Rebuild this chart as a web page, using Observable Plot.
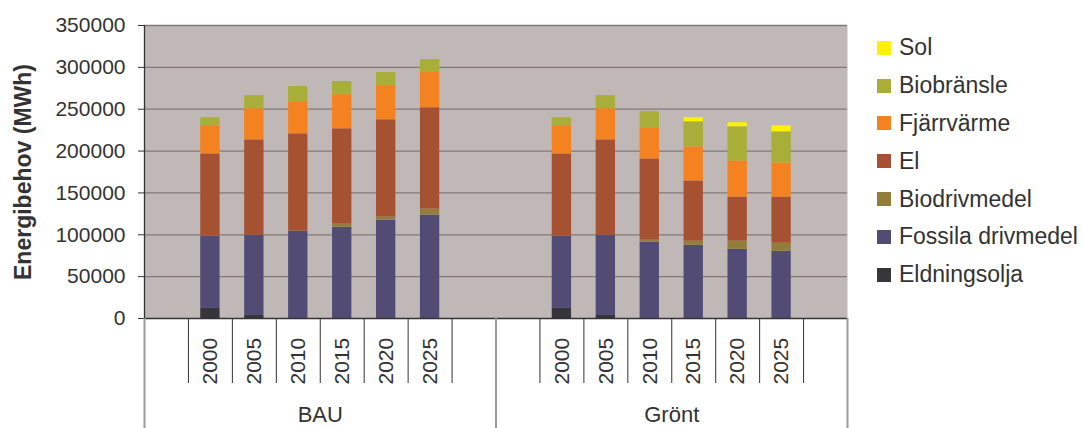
<!DOCTYPE html>
<html>
<head>
<meta charset="utf-8">
<script src="https://cdn.jsdelivr.net/npm/d3@7"></script>
<script src="https://cdn.jsdelivr.net/npm/@observablehq/plot@0.6"></script>
<style>
  body { margin: 0; background: #fff; font-family: "Liberation Sans", Arial, sans-serif; }
  #wrap { position: relative; width: 1083px; height: 428px; }
  #legend { position: absolute; left: 877px; top: 29px; color: #333; font-size: 23px; }
  .row { display: flex; align-items: center; height: 37.8px; white-space: nowrap; }
  .sw { width: 14px; height: 14px; margin-right: 8px; flex: none; }
</style>
</head>
<body>
<div id="wrap"></div>
<script>
// ---- data ----
const scenarios = ["BAU", "Grönt"];
const years = ["2000", "2005", "2010", "2015", "2020", "2025"];
const yTicks = [0, 50000, 100000, 150000, 200000, 250000, 300000, 350000];
const seriesNames = ["Eldningsolja", "Fossila drivmedel", "Biodrivmedel", "El", "Fjärrvärme", "Biobränsle", "Sol"];
const seriesColors = ["#363539", "#524c74", "#927d3a", "#a65232", "#f58220", "#a8ae38", "#fff200"];
// values: BAU 2000..2025, then Grönt 2000..2025
const eldningsolja = [12000, 3600, 0, 0, 0, 0, 12000, 3600, 0, 0, 0, 0];
const fossila      = [86300, 95900, 104300, 109100, 117500, 123500, 86300, 95900, 91100, 87500, 82700, 80300];
const biodrivmedel = [0, 0, 0, 3600, 3600, 7200, 0, 0, 2400, 4800, 9600, 9600];
const el           = [98300, 113900, 116300, 113900, 116300, 121100, 98300, 113900, 97100, 72000, 52800, 55200];
const fjarrvarme   = [32800, 37200, 38400, 40800, 40800, 42000, 32800, 37200, 36400, 40700, 43100, 40700];
const biobransle   = [10400, 15600, 18000, 15600, 15600, 15500, 10400, 15600, 20000, 30000, 40800, 37200];
const sol          = [0, 0, 0, 0, 0, 0, 0, 0, 0, 4800, 4800, 7200];
const seriesValues = [eldningsolja, fossila, biodrivmedel, el, fjarrvarme, biobransle, sol];
const yTitle = "Energibehov (MWh)";

// ---- build table ----
const slotKeys = scenarios.flatMap(s => [s + "|a", ...years.map(y => s + "|" + y), s + "|z"]);
const rows = [];
scenarios.forEach((s, si) => years.forEach((y, yi) => {
  const i = si * years.length + yi;
  seriesNames.forEach((name, k) => {
    const v = seriesValues[k][i];
    if (v > 0) rows.push({key: s + "|" + y, series: name, value: v});
  });
}));
const yearLabels = scenarios.flatMap(s => years.map(y => ({key: s + "|" + y, year: y})));
const groupLabels = scenarios.map(s => ({key: s + "|" + years[3], name: s}));
const innerKeys = slotKeys.filter(k => !k.endsWith("|a"));
const groupStartKeys = slotKeys.filter(k => k.endsWith("|a"));
const lastKey = slotKeys[slotKeys.length - 1];

const W = 1083, H = 428, ML = 144, MR = 236, MT = 25, MB = 110;
const step = (W - ML - MR) / slotKeys.length;
const txt = "#333333";

const chart = Plot.plot({
  width: W, height: H,
  marginLeft: ML, marginRight: MR, marginTop: MT, marginBottom: MB,
  style: {fontFamily: "'Liberation Sans', Arial, sans-serif", fontSize: "21px", color: txt, background: "#fff", overflow: "visible"},
  x: {type: "band", domain: slotKeys, paddingInner: 0.56, paddingOuter: 0.28, round: false, axis: null},
  y: {domain: [0, 350000], axis: null},
  color: {domain: seriesNames, range: seriesColors},
  marks: [
    Plot.frame({fill: "#c0b8b6", stroke: null}),
    Plot.ruleY(yTicks.filter(d => d > 0), {stroke: "#827a78", strokeWidth: 1.3}),
    Plot.barY(rows, {x: "key", y: "value", fill: "series"}),
    // axes lines
    Plot.ruleY([0], {stroke: "#333", strokeWidth: 1.3}),
    Plot.ruleX([slotKeys[0]], {x: d => d, y1: 0, y2: 350000, dx: -step / 2, stroke: "#333", strokeWidth: 1.3}),
    Plot.axisY(yTicks, {tickSize: 6, tickPadding: 13, tickFormat: d => String(d), fontSize: 21, label: null, stroke: "#333"}),
    // category ticks
    Plot.ruleX(innerKeys, {x: d => d, y1: 0, y2: 0, dx: -step / 2, insetBottom: -65, stroke: "#333", strokeWidth: 1}),
    Plot.ruleX(groupStartKeys, {x: d => d, y1: 0, y2: 0, dx: -step / 2, insetBottom: -110, stroke: "#9a9a9a", strokeWidth: 2}),
    Plot.ruleX([lastKey], {x: d => d, y1: 0, y2: 0, dx: step / 2, insetBottom: -110, stroke: "#9a9a9a", strokeWidth: 2}),
    // labels
    Plot.text(yearLabels, {x: "key", y: () => 0, text: "year", rotate: -90, textAnchor: "start", lineAnchor: "middle", dy: 66, fontSize: 21, fill: txt}),
    Plot.text(groupLabels, {x: "key", y: () => 0, text: "name", dx: -step / 2, dy: 96, lineAnchor: "middle", fontSize: 22, fill: txt}),
    Plot.text([yTitle], {frameAnchor: "left", text: d => d, rotate: -90, dx: -121, textAnchor: "middle", lineAnchor: "middle", fontSize: 23, fontWeight: "bold", fill: txt})
  ]
});

const wrap = document.getElementById("wrap");
wrap.appendChild(chart);

const legend = document.createElement("div");
legend.id = "legend";
seriesNames.slice().reverse().forEach(name => {
  const row = document.createElement("div");
  row.className = "row";
  const sw = document.createElement("span");
  sw.className = "sw";
  sw.style.background = seriesColors[seriesNames.indexOf(name)];
  const label = document.createElement("span");
  label.textContent = name;
  row.appendChild(sw); row.appendChild(label);
  legend.appendChild(row);
});
wrap.appendChild(legend);
</script>
</body>
</html>
